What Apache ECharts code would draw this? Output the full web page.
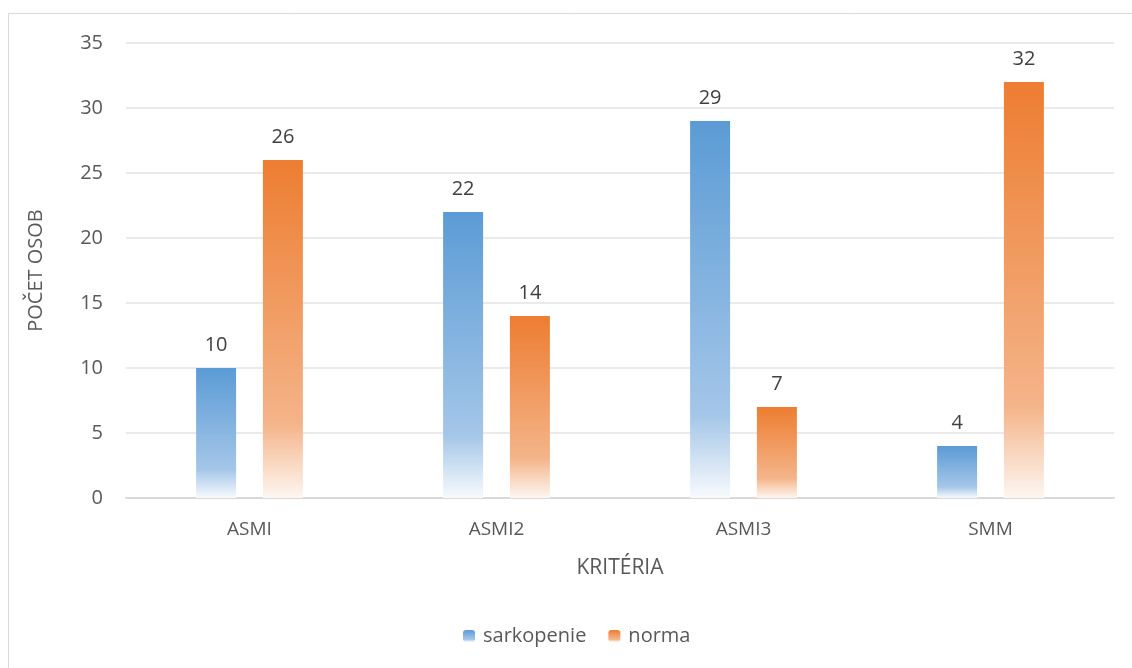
<!DOCTYPE html>
<html>
<head>
<meta charset="utf-8">
<script src="https://cdn.jsdelivr.net/npm/echarts@6/dist/echarts.min.js"></script>
<style>
  html, body { margin: 0; padding: 0; background: #fff; }
  #chart { width: 1132px; height: 668px; }
</style>
</head>
<body>
<div id="chart"></div>
<script>
// Kritéria a počty osob
const categories = ['ASMI', 'ASMI2', 'ASMI3', 'SMM'];
const sarkopenie = [10, 22, 29, 4];
const norma = [26, 14, 7, 32];
const yTicks = { min: 0, max: 35, interval: 5 };

const FONT = '"Open Sans", "Noto Sans", sans-serif';
const TEXT = '#595959';

// Vertical fade from solid colour at the top to nearly white at the base
function fade(top, mid, base) {
  return new echarts.graphic.LinearGradient(0, 0, 0, 1, [
    { offset: 0, color: top },
    { offset: 0.78, color: mid },
    { offset: 1, color: base }
  ]);
}
const blueFill = fade('#5b9bd5', '#a4c6e8', '#f7fafd');
const orangeFill = fade('#ed7d31', '#f4b489', '#fdf6f1');

const chart = echarts.init(document.getElementById('chart'), null, { renderer: 'canvas' });

const labelStyle = {
  show: true,
  position: 'top',
  distance: 13,
  color: '#404040',
  fontFamily: FONT,
  fontSize: 20
};

chart.setOption({
  animation: false,
  backgroundColor: '#ffffff',
  graphic: [{
    type: 'rect',
    shape: { x: 8.5, y: 13.5, width: 1130, height: 670 },
    style: { fill: 'none', stroke: '#d9d9d9', lineWidth: 1 },
    silent: true,
    z: -1
  }],
  grid: { left: 126, right: 18, top: 43, bottom: 170, containLabel: false },
  legend: {
    bottom: 17,
    left: 458,
    itemWidth: 12,
    itemHeight: 12,
    itemGap: 22,
    textStyle: { color: TEXT, fontFamily: FONT, fontSize: 20, padding: [0, 0, 0, 3] },
    data: ['sarkopenie', 'norma']
  },
  xAxis: {
    type: 'category',
    data: categories,
    name: 'KRITÉRIA',
    nameLocation: 'middle',
    nameGap: 60,
    nameTextStyle: { color: TEXT, fontFamily: FONT, fontSize: 21 },
    axisLine: { lineStyle: { color: '#d9d9d9', width: 2 } },
    axisTick: { show: false },
    axisLabel: { color: TEXT, fontFamily: FONT, fontSize: 19, margin: 22 }
  },
  yAxis: {
    type: 'value',
    min: yTicks.min,
    max: yTicks.max,
    interval: yTicks.interval,
    name: 'POČET OSOB',
    nameLocation: 'middle',
    nameGap: 80,
    nameRotate: 90,
    nameTextStyle: { color: TEXT, fontFamily: FONT, fontSize: 20 },
    axisLine: { show: false },
    axisTick: { show: false },
    axisLabel: { color: TEXT, fontFamily: FONT, fontSize: 20, margin: 23 },
    splitLine: { lineStyle: { color: '#e3e3e3', width: 1.5 } }
  },
  series: [
    {
      name: 'sarkopenie',
      type: 'bar',
      data: sarkopenie,
      barWidth: 40,
      barGap: '67%',
      itemStyle: { color: blueFill },
      label: labelStyle
    },
    {
      name: 'norma',
      type: 'bar',
      data: norma,
      barWidth: 40,
      itemStyle: { color: orangeFill },
      label: labelStyle
    }
  ]
});
</script>
</body>
</html>
